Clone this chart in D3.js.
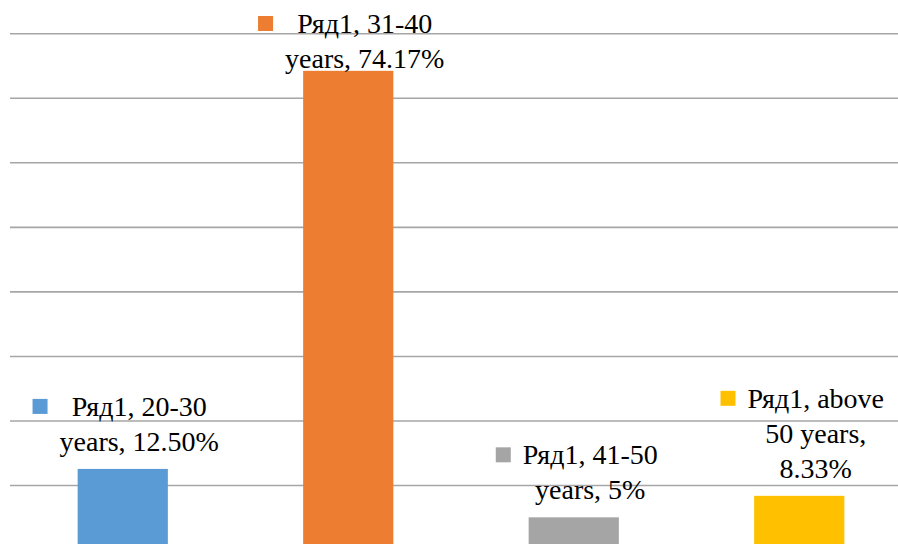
<!DOCTYPE html>
<html>
<head>
<meta charset="utf-8">
<script src="https://cdn.jsdelivr.net/npm/d3@7/dist/d3.min.js"></script>
<style>
  html, body { margin: 0; padding: 0; background: #fff; }
  svg { display: block; }
</style>
</head>
<body>
<svg id="chart" width="898" height="544"></svg>
<script>
// ---- data ----
const seriesName = "Ряд1";
const categories = ["20-30 years", "31-40 years", "41-50 years", "above 50 years"];
const values = [12.5, 74.17, 5, 8.33];
const valueLabels = ["12.50%", "74.17%", "5%", "8.33%"];
const labelLines = [
  ["Ряд1, 20-30", "years, 12.50%"],
  ["Ряд1, 31-40", "years, 74.17%"],
  ["Ряд1, 41-50", "years, 5%"],
  ["Ряд1, above", "50 years,", "8.33%"]
];
const colors = ["#5b9bd5", "#ed7d31", "#a5a5a5", "#ffc000"];
const gridTicks = [10, 20, 30, 40, 50, 60, 70, 80];

// ---- layout ----
const svg = d3.select("#chart");
const plotLeft = 10, plotRight = 912, plotTop = 33.2, plotBottom = 549.6;

const x = d3.scaleBand()
  .domain(categories)
  .range([plotLeft, plotRight])
  .paddingInner(0.6)
  .paddingOuter(0.3);

const y = d3.scaleLinear()
  .domain([0, 80])
  .range([plotBottom, plotTop]);

// gridlines
const grid = svg.append("g")
  .attr("transform", `translate(${plotLeft},0)`)
  .call(d3.axisLeft(y).tickValues(gridTicks).tickSize(-(plotRight - plotLeft)).tickFormat(""));
grid.select(".domain").remove();
grid.selectAll(".tick line")
  .attr("stroke", "#a6a6a6")
  .attr("stroke-width", 1.6);

// bars
svg.append("g").selectAll("rect")
  .data(categories)
  .join("rect")
  .attr("x", d => x(d))
  .attr("width", x.bandwidth())
  .attr("y", (d, i) => y(values[i]))
  .attr("height", (d, i) => y(0) - y(values[i]))
  .attr("fill", (d, i) => colors[i]);

// data labels
const fontSize = 28, lineH = 35, markerSize = 15, markerGap = 12, gapAbove = 18;
const labels = svg.append("g").attr("fill", "#000");

categories.forEach((c, i) => {
  const g = labels.append("g");
  const texts = labelLines[i].map(l => g.append("text")
    .attr("text-anchor", "middle")
    .attr("style", "font-family: 'Liberation Serif', Tinos, 'Noto Serif', 'DejaVu Serif', serif; font-size: " + fontSize + "px;")
    .text(l));
  const maxW = d3.max(texts, t => t.node().getComputedTextLength());
  const totalW = markerSize + markerGap + maxW;
  const cx = x(c) + x.bandwidth() / 2 + 3;
  const left = cx - totalW / 2;
  const textCx = left + markerSize + markerGap + maxW / 2;
  const n = labelLines[i].length;
  let firstBase = y(values[i]) - gapAbove - (n - 1) * lineH;
  if (firstBase < 33) firstBase = 33;
  texts.forEach((t, k) => t.attr("x", textCx).attr("y", firstBase + k * lineH));
  g.insert("rect", "text")
    .attr("x", left)
    .attr("y", firstBase - 17)
    .attr("width", markerSize)
    .attr("height", markerSize)
    .attr("fill", colors[i]);
});
</script>
</body>
</html>
